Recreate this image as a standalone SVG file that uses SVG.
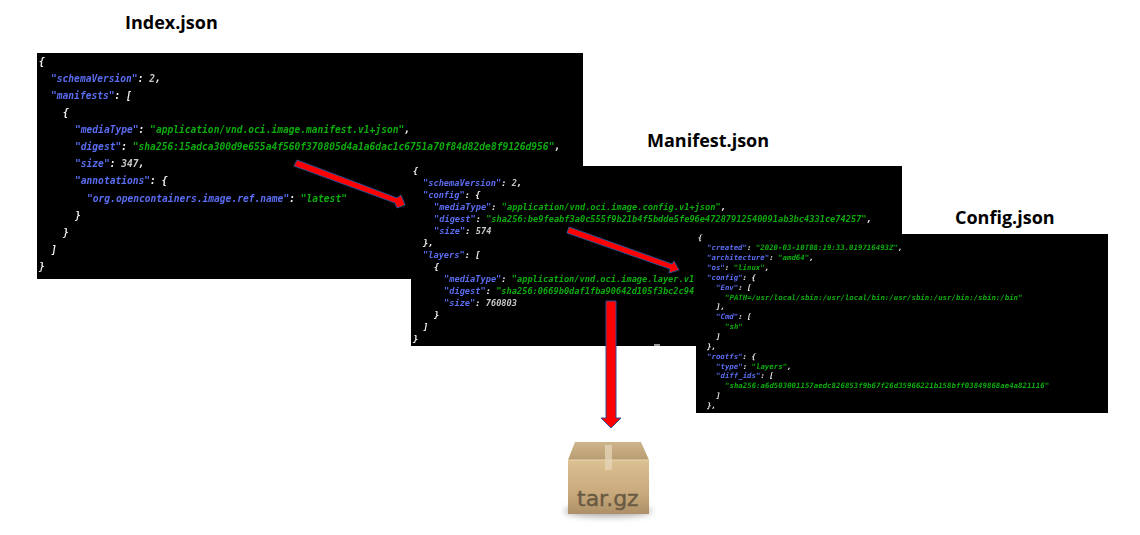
<svg xmlns="http://www.w3.org/2000/svg" width="1140" height="535" viewBox="0 0 1140 535">
<style>
.title{font:bold 18px "Open Sans","Liberation Sans",sans-serif;fill:#000}
.code{font-family:"DejaVu Sans Mono","Liberation Mono",monospace;font-style:oblique;font-weight:bold;fill:#f0f0f0;white-space:pre}
.i{font-size:9.6px}.m{font-size:8.66px}.c{font-size:7.38px}
.k{fill:#5a6cf0}.s{fill:#0cac0c}.n{fill:#c8c8c8}
.panel{fill:#000}
.arrow{fill:#fe0000;stroke:#2f4f8f;stroke-width:1}
</style>
<defs>
<filter id="soft" x="-5%" y="-5%" width="110%" height="110%"><feGaussianBlur stdDeviation="0.25"/></filter>
<filter id="shadow" x="-20%" y="-50%" width="140%" height="200%"><feGaussianBlur stdDeviation="3"/></filter>
<linearGradient id="body" x1="0" y1="0" x2="0" y2="1"><stop offset="0" stop-color="#dcc193"/><stop offset="0.6" stop-color="#c8aa7c"/><stop offset="1" stop-color="#ad9068"/></linearGradient>
<linearGradient id="lid" x1="0" y1="0" x2="0" y2="1"><stop offset="0" stop-color="#cfb58c"/><stop offset="1" stop-color="#b89c72"/></linearGradient>
</defs>
<rect width="1140" height="535" fill="#fff"/>
<g id="index-json">
<text class="title" x="125" y="29">Index.json</text>
<rect class="panel" x="37" y="53" width="546" height="226"/>
<g class="code i" filter="url(#soft)">
<text x="39" y="65">{</text>
<text x="51" y="82"><tspan class="k">"schemaVersion"</tspan>: <tspan class="n">2</tspan>,</text>
<text x="51" y="99"><tspan class="k">"manifests"</tspan>: [</text>
<text x="63" y="116">{</text>
<text x="75" y="133"><tspan class="k">"mediaType"</tspan>: <tspan class="s">"application/vnd.oci.image.manifest.v1+json"</tspan>,</text>
<text x="75" y="150"><tspan class="k">"digest"</tspan>: <tspan class="s">"sha256:15adca300d9e655a4f560f370805d4a1a6dac1c6751a70f84d82de8f9126d956"</tspan>,</text>
<text x="75" y="167"><tspan class="k">"size"</tspan>: <tspan class="n">347</tspan>,</text>
<text x="75" y="184"><tspan class="k">"annotations"</tspan>: {</text>
<text x="87" y="202"><tspan class="k">"org.opencontainers.image.ref.name"</tspan>: <tspan class="s">"latest"</tspan></text>
<text x="75" y="219">}</text>
<text x="63" y="236">}</text>
<text x="51" y="253">]</text>
<text x="39" y="270">}</text>
</g>
</g>
<g id="manifest-json">
<text class="title" x="647" y="147">Manifest.json</text>
<rect class="panel" x="411" y="166" width="491" height="180"/>
<rect x="654" y="344" width="6" height="2" fill="#999"/>
<g class="code m" filter="url(#soft)">
<text x="413" y="174">{</text>
<text x="423" y="186"><tspan class="k">"schemaVersion"</tspan>: <tspan class="n">2</tspan>,</text>
<text x="423" y="198"><tspan class="k">"config"</tspan>: {</text>
<text x="434" y="210"><tspan class="k">"mediaType"</tspan>: <tspan class="s">"application/vnd.oci.image.config.v1+json"</tspan>,</text>
<text x="434" y="222"><tspan class="k">"digest"</tspan>: <tspan class="s">"sha256:be9feabf3a0c555f9b21b4f5bdde5fe96e47287912540091ab3bc4331ce74257"</tspan>,</text>
<text x="434" y="234"><tspan class="k">"size"</tspan>: <tspan class="n">574</tspan></text>
<text x="423" y="246">},</text>
<text x="423" y="258"><tspan class="k">"layers"</tspan>: [</text>
<text x="434" y="270">{</text>
<text x="444" y="282"><tspan class="k">"mediaType"</tspan>: <tspan class="s">"application/vnd.oci.image.layer.v1</tspan></text>
<text x="444" y="294"><tspan class="k">"digest"</tspan>: <tspan class="s">"sha256:0669b0daf1fba90642d105f3bc2c94</tspan></text>
<text x="444" y="306"><tspan class="k">"size"</tspan>: <tspan class="n">760803</tspan></text>
<text x="434" y="318">}</text>
<text x="423" y="330">]</text>
<text x="413" y="342">}</text>
</g>
</g>
<g id="config-json">
<text class="title" x="955" y="224">Config.json</text>
<rect class="panel" x="696" y="234" width="412" height="179"/>
<g class="code c" filter="url(#soft)">
<text x="698" y="240">{</text>
<text x="707" y="250"><tspan class="k">"created"</tspan>: <tspan class="s">"2020-03-10T08:19:33.019716493Z"</tspan>,</text>
<text x="707" y="260"><tspan class="k">"architecture"</tspan>: <tspan class="s">"amd64"</tspan>,</text>
<text x="707" y="270"><tspan class="k">"os"</tspan>: <tspan class="s">"linux"</tspan>,</text>
<text x="707" y="280"><tspan class="k">"config"</tspan>: {</text>
<text x="716" y="290"><tspan class="k">"Env"</tspan>: [</text>
<text x="725" y="300"><tspan class="s">"PATH=/usr/local/sbin:/usr/local/bin:/usr/sbin:/usr/bin:/sbin:/bin"</tspan></text>
<text x="716" y="309">],</text>
<text x="716" y="319"><tspan class="k">"Cmd"</tspan>: [</text>
<text x="725" y="329"><tspan class="s">"sh"</tspan></text>
<text x="716" y="339">]</text>
<text x="707" y="349">},</text>
<text x="707" y="359"><tspan class="k">"rootfs"</tspan>: {</text>
<text x="716" y="369"><tspan class="k">"type"</tspan>: <tspan class="s">"layers"</tspan>,</text>
<text x="716" y="378"><tspan class="k">"diff_ids"</tspan>: [</text>
<text x="725" y="388"><tspan class="s">"sha256:a6d503001157aedc826853f9b67f26d35966221b158bff03849868ae4a821116"</tspan></text>
<text x="716" y="398">]</text>
<text x="707" y="408">},</text>
</g>
</g>
<g id="tar-gz">
<ellipse cx="608" cy="511" rx="44" ry="6" fill="#777" opacity="0.6" filter="url(#shadow)"/>
<path d="M568 460 L575 442 H641 L649 460 Z" fill="url(#lid)"/>
<rect x="568" y="460" width="81" height="54" fill="url(#body)"/>
<path d="M568 460 H649" stroke="#e8d6b4" stroke-width="1"/>
<rect x="605" y="445" width="7" height="25" fill="#e6d6ba" opacity="0.75"/>
<text x="577" y="506" font-family="'DejaVu Sans',sans-serif" font-size="22" fill="#6a5a42" stroke="#6a5a42" stroke-width="0.4">tar.gz</text>
</g>
<g id="connectors">
<path class="arrow" d="M297 160 L397 198 L401 195 L405 205 L397 208 L395 203 L294 166 Z"/>
<path class="arrow" d="M569 227 L672 264 L674 261 L679 270 L669 273 L670 269 L567 233 Z"/>
<path class="arrow" d="M606 301 H616 V418 H621 L611 428 L601 418 H606 Z"/>
</g>
</svg>
